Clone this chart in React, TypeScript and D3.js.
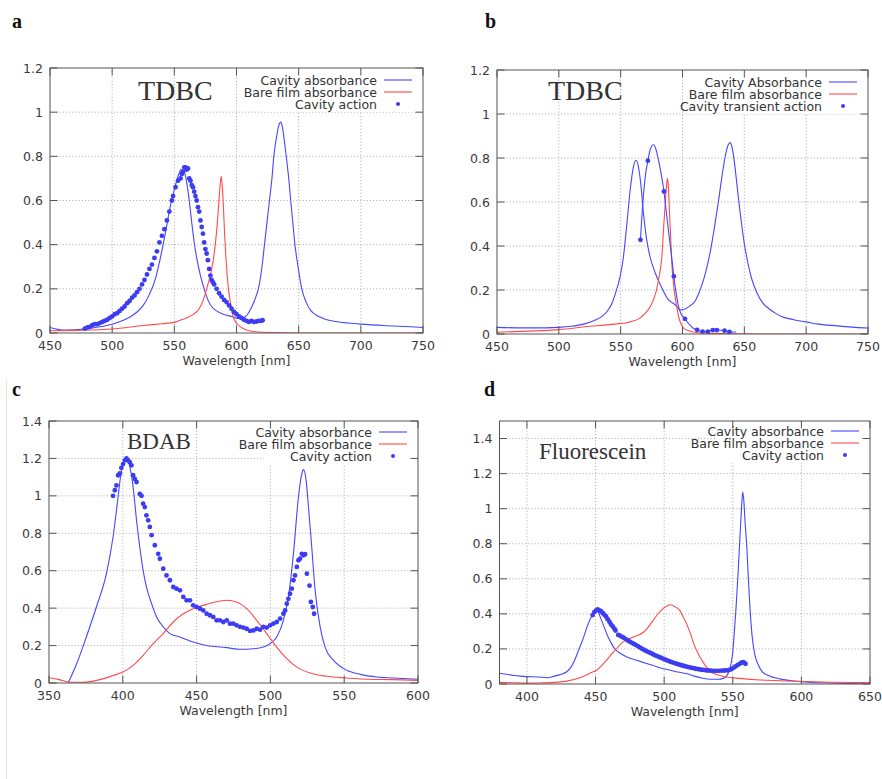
import React from "react";
import * as d3 from "d3";

type Pt = [number, number];

// ---------------- Panel a (TDBC) ----------------
const aCavityAbs: Pt[] = [
  [450, 0.025], [455, 0.018], [460, 0.013], [470, 0.015], [480, 0.02], [490, 0.028], [500, 0.04],
  [510, 0.06], [515, 0.075], [520, 0.095], [525, 0.125], [530, 0.175], [535, 0.25], [538, 0.32],
  [541, 0.4], [544, 0.49], [547, 0.58], [550, 0.65], [553, 0.71], [555.5, 0.74], [558, 0.73],
  [560, 0.68], [562, 0.6], [564, 0.5], [566, 0.41], [568, 0.34], [571, 0.26], [574, 0.2],
  [577, 0.15], [580, 0.12], [584, 0.1], [588, 0.088], [592, 0.08], [596, 0.075], [600, 0.067],
  [603, 0.065], [606, 0.07], [609, 0.085], [612, 0.115], [615, 0.155], [618, 0.21], [620.5, 0.3],
  [622.5, 0.4], [624.5, 0.5], [626.5, 0.6], [628.5, 0.7], [630, 0.8], [632, 0.88], [634, 0.94],
  [635.5, 0.955], [637, 0.93], [638.5, 0.87], [640, 0.8], [642, 0.7], [643.6, 0.6], [645.3, 0.5],
  [647, 0.4], [649.5, 0.3], [652.5, 0.2], [656, 0.14], [660, 0.1], [665, 0.078], [670, 0.065],
  [680, 0.052], [690, 0.045], [700, 0.04], [720, 0.033], [740, 0.028], [750, 0.025],
];
const aBareFilm: Pt[] = [
  [450, 0.01], [470, 0.012], [500, 0.018], [525, 0.034], [540, 0.042], [550, 0.048], [558, 0.065],
  [565, 0.083], [570, 0.11], [573.3, 0.15], [576, 0.2], [578.7, 0.256], [581, 0.32], [582.7, 0.39],
  [584, 0.46], [585.4, 0.56], [586.7, 0.66], [587.7, 0.71], [588.6, 0.66], [589.4, 0.58],
  [590.5, 0.44], [592, 0.3], [593.5, 0.2], [594.8, 0.15], [597, 0.08], [600, 0.045], [604, 0.025],
  [608, 0.014], [615, 0.006], [630, 0.002], [650, 0.0], [750, 0.0],
];
const aCavityAction: Pt[] = [
  [478, 0.02], [480, 0.025], [482, 0.028], [484, 0.035], [486, 0.04], [488, 0.04], [490, 0.045],
  [492, 0.05], [494, 0.055], [496, 0.06], [498, 0.068], [500, 0.075], [502, 0.085], [504, 0.09],
  [506, 0.1], [508, 0.11], [510, 0.12], [512, 0.135], [514, 0.145], [516, 0.16], [518, 0.17],
  [520, 0.185], [522, 0.2], [524, 0.22], [526, 0.24], [528, 0.265], [530, 0.29], [532, 0.31],
  [534, 0.34], [536, 0.37], [538, 0.41], [540, 0.44], [542, 0.47], [544, 0.51], [546, 0.55],
  [548, 0.6], [549, 0.62], [551, 0.66], [553, 0.69], [555, 0.7], [556, 0.72], [557, 0.73],
  [558, 0.75], [559, 0.75], [560, 0.74], [561, 0.745], [562, 0.7], [563, 0.69], [564, 0.67],
  [565, 0.66], [566, 0.64], [567, 0.62], [568, 0.6], [569, 0.57], [570, 0.55], [571, 0.51],
  [572, 0.48], [573, 0.45], [574, 0.41], [575, 0.38], [576, 0.36], [577, 0.33], [578, 0.29],
  [579, 0.26], [580, 0.24], [581, 0.23], [582, 0.22], [584, 0.2], [586, 0.18], [588, 0.165],
  [590, 0.15], [592, 0.14], [594, 0.125], [596, 0.11], [598, 0.095], [600, 0.085], [602, 0.075],
  [604, 0.068], [606, 0.06], [608, 0.055], [610, 0.05], [612, 0.055], [614, 0.05], [616, 0.052],
  [618, 0.055], [620, 0.055], [621, 0.058],
];

// ---------------- Panel b (TDBC transient) ----------------
const bCavityAbs: Pt[] = [
  [450, 0.03], [470, 0.028], [490, 0.028], [500, 0.03], [510, 0.035], [520, 0.045], [530, 0.065],
  [535, 0.08], [540, 0.11], [543, 0.14], [545.5, 0.18], [549.5, 0.26], [552, 0.34], [555, 0.5],
  [557.6, 0.65], [560.3, 0.76], [562.5, 0.79], [564.4, 0.76], [566.5, 0.67], [568.4, 0.55],
  [571, 0.43], [573.8, 0.35], [578, 0.277], [583.3, 0.209], [588.6, 0.156], [591, 0.145],
  [594, 0.133], [598, 0.11], [602, 0.114], [606, 0.128], [610, 0.148], [613.5, 0.19],
  [617, 0.246], [620, 0.31], [623, 0.39], [626, 0.49], [629, 0.6], [632, 0.72], [635, 0.82],
  [637, 0.86], [638.5, 0.87], [640, 0.85], [642, 0.78], [644, 0.68], [646, 0.58], [648, 0.49],
  [650, 0.41], [653, 0.32], [656, 0.25], [660, 0.19], [665, 0.14], [670, 0.115], [675, 0.095],
  [680, 0.08], [690, 0.065], [700, 0.055], [710, 0.045], [725, 0.037], [740, 0.03], [750, 0.027],
];
const bBareFilm: Pt[] = [
  [450, 0.008], [475, 0.013], [500, 0.02], [525, 0.035], [545, 0.045], [559, 0.057], [565, 0.07],
  [570, 0.095], [573.5, 0.12], [576.5, 0.156], [579, 0.2], [580.6, 0.246], [582, 0.29],
  [583.3, 0.35], [584.6, 0.473], [586, 0.59], [587, 0.67], [587.8, 0.708], [588.6, 0.67],
  [589.5, 0.55], [590.5, 0.43], [591.4, 0.32], [592.5, 0.24], [594, 0.17], [595.5, 0.12],
  [596.8, 0.08], [598.5, 0.05], [600.8, 0.027], [605, 0.015], [610, 0.008], [620, 0.004],
  [640, 0.001], [660, 0.0], [750, 0.0],
];
const bTransientCurve: Pt[] = [
  [566, 0.428], [568, 0.6], [570, 0.72], [572, 0.788], [574, 0.84], [576.5, 0.86], [578.5, 0.84],
  [580.6, 0.79], [583, 0.72], [585, 0.648], [586.8, 0.56], [588.6, 0.473], [591, 0.36],
  [593, 0.262], [595, 0.18], [596.8, 0.125], [599, 0.09], [602, 0.069], [606, 0.04], [609, 0.025],
  [611.8, 0.019], [616, 0.011], [620.5, 0.011], [624.5, 0.018], [628, 0.018], [634, 0.015],
  [638, 0.009], [643.4, 0.009],
];
const bTransientAction: Pt[] = [
  [566, 0.428], [572, 0.788], [585, 0.648], [593, 0.262], [602, 0.069], [611.8, 0.019],
  [616.2, 0.011], [620.5, 0.011], [624.5, 0.018], [627.8, 0.018], [634, 0.015], [638, 0.009],
];

// ---------------- Panel c (BDAB) ----------------
const cCavityAbs: Pt[] = [
  [363, 0.0], [368.6, 0.1], [375.3, 0.246], [382.1, 0.406], [388.9, 0.584], [393.4, 0.78],
  [396.8, 0.994], [399.1, 1.136], [401.4, 1.19], [402.5, 1.2], [404.8, 1.154], [407, 1.047],
  [409.3, 0.87], [411.5, 0.727], [413.8, 0.6], [416, 0.513], [419.5, 0.424], [422.9, 0.353],
  [427.4, 0.3], [431.9, 0.264], [438.7, 0.246], [447.7, 0.219], [456.8, 0.2], [470.4, 0.189],
  [479.4, 0.18], [488.5, 0.183], [495.2, 0.192], [499.8, 0.21], [504.3, 0.246], [508.8, 0.335],
  [512.2, 0.46], [515.6, 0.69], [519, 0.994], [521.3, 1.119], [522.4, 1.14], [524.2, 1.083],
  [525.8, 0.94], [528, 0.727], [530.3, 0.495], [533.7, 0.3], [537.1, 0.19], [542.8, 0.121],
  [551.8, 0.068], [560.9, 0.046], [572.2, 0.032], [583.5, 0.027], [600, 0.02],
];
const cBareFilm: Pt[] = [
  [350, 0.028], [357, 0.018], [364, 0.004], [373, 0.004], [384.4, 0.018], [393.4, 0.04],
  [400.2, 0.059], [407, 0.094], [413.8, 0.148], [420.6, 0.21], [427.4, 0.264], [434.2, 0.326],
  [441, 0.37], [447.7, 0.397], [456.8, 0.42], [465.8, 0.438], [470.4, 0.442], [477.1, 0.433],
  [483.9, 0.397], [490.7, 0.335], [497.5, 0.264], [504.3, 0.192], [511.1, 0.13], [517.9, 0.085],
  [526.9, 0.053], [538.2, 0.036], [551.8, 0.027], [565.4, 0.02], [583.5, 0.018], [600, 0.014],
];
const cCavityAction: Pt[] = [
  [393.4, 1.0], [394.6, 1.03], [395.7, 1.056], [396.8, 1.11], [398, 1.12], [399, 1.15],
  [400.2, 1.17], [401.4, 1.19], [402.5, 1.2], [403.6, 1.19], [404.7, 1.18], [405.9, 1.163],
  [407, 1.11], [408.1, 1.09], [409.3, 1.074], [411.5, 1.01], [412.7, 1.0], [413.8, 0.958],
  [414.9, 0.94], [416, 0.896], [417.2, 0.869], [418.3, 0.834], [419.5, 0.79], [421.7, 0.736],
  [424, 0.69], [425.1, 0.664], [427.4, 0.611], [429.6, 0.575], [431.9, 0.549], [434.2, 0.513],
  [436.4, 0.504], [438.7, 0.495], [441, 0.46], [443.2, 0.442], [445.5, 0.442], [447.7, 0.415],
  [450, 0.406], [452.3, 0.397], [454.5, 0.388], [456.8, 0.37], [459, 0.362], [461.3, 0.353],
  [463.6, 0.335], [465.8, 0.335], [468.1, 0.326], [470.4, 0.335], [472.6, 0.317], [474.9, 0.317],
  [477.1, 0.308], [479.4, 0.3], [481.7, 0.296], [483.9, 0.29], [486.2, 0.278], [488.5, 0.281],
  [490.7, 0.29], [493, 0.285], [495.2, 0.3], [497.5, 0.296], [499.8, 0.308], [502, 0.317],
  [504.3, 0.326], [506.6, 0.344], [508.8, 0.37], [510, 0.388], [511.1, 0.424], [512.2, 0.45],
  [513.3, 0.477], [514.5, 0.504], [515.6, 0.549], [516.7, 0.575], [517.9, 0.62], [519, 0.656],
  [520.1, 0.664], [521.3, 0.69], [522.4, 0.682], [523.5, 0.688], [524.7, 0.584], [526.5, 0.52],
  [527.4, 0.433], [528.7, 0.406], [529.6, 0.37],
];

// ---------------- Panel d (Fluorescein) ----------------
const dCavityAbs: Pt[] = [
  [380, 0.061], [388, 0.052], [395, 0.045], [400, 0.042], [408, 0.04], [415, 0.036], [420, 0.045],
  [425, 0.055], [429, 0.07], [432, 0.095], [435, 0.14], [438, 0.2], [441, 0.26], [444, 0.33],
  [447, 0.385], [449.5, 0.42], [451.5, 0.415], [453.5, 0.38], [456, 0.33], [458.5, 0.28],
  [461, 0.24], [464, 0.2], [468, 0.175], [474, 0.15], [480, 0.135], [486, 0.12], [492, 0.105],
  [498, 0.09], [504, 0.08], [510, 0.068], [516, 0.06], [522, 0.045], [528, 0.033], [534, 0.027],
  [539, 0.027], [543, 0.032], [545.5, 0.045], [547.5, 0.08], [549.5, 0.15], [551, 0.28],
  [552.5, 0.45], [554, 0.65], [555.5, 0.88], [556.5, 1.02], [557.2, 1.095], [558, 1.05],
  [559, 0.92], [560.3, 0.77], [561.5, 0.58], [562.5, 0.44], [564, 0.28], [566, 0.17], [568, 0.12],
  [571, 0.075], [576, 0.048], [585, 0.028], [595, 0.017], [605, 0.01], [620, 0.006], [635, 0.003],
  [650, 0.0],
];
const dBareFilm: Pt[] = [
  [380, 0.009], [390, 0.007], [400, 0.005], [410, 0.006], [420, 0.009], [430, 0.018], [440, 0.04],
  [447, 0.065], [451, 0.08], [456, 0.118], [460, 0.155], [465, 0.2], [470, 0.24], [475, 0.26],
  [480, 0.275], [485, 0.295], [488, 0.32], [492, 0.363], [496, 0.405], [499.2, 0.43], [502, 0.445],
  [505, 0.452], [508, 0.44], [511.4, 0.42], [514, 0.38], [516.5, 0.34], [519, 0.29], [522, 0.22],
  [526, 0.155], [530, 0.105], [535, 0.065], [540, 0.05], [545, 0.04], [555, 0.032], [570, 0.023],
  [590, 0.017], [615, 0.011], [650, 0.008],
];
const dCavityAction: Pt[] = [
  [447.9, 0.393], [449.1, 0.41], [450.4, 0.42], [451.6, 0.425], [452.8, 0.42], [454, 0.415],
  [455.2, 0.405], [456.4, 0.395], [457.6, 0.385], [458.8, 0.37], [460.1, 0.355], [461.3, 0.34],
  [462.5, 0.328], [463.7, 0.315], [464.5, 0.305], [466.5, 0.28], [467.7, 0.276], [469, 0.27],
  [470.5, 0.264], [472, 0.256], [473.5, 0.248], [475, 0.241], [476.5, 0.235], [478, 0.228],
  [479.5, 0.222], [481, 0.215], [482.5, 0.208], [484, 0.2], [485.5, 0.194], [487, 0.188],
  [488.5, 0.182], [490, 0.177], [491.5, 0.171], [493, 0.165], [494.5, 0.16], [496, 0.155],
  [497.5, 0.15], [499, 0.145], [500.5, 0.14], [502, 0.135], [503.5, 0.131], [505, 0.126],
  [506.5, 0.122], [508, 0.118], [509.5, 0.114], [511, 0.111], [512.5, 0.107], [514, 0.104],
  [515.5, 0.101], [517, 0.098], [518.5, 0.095], [520, 0.092], [521.5, 0.09], [523, 0.087],
  [524.5, 0.085], [526, 0.083], [527.5, 0.081], [529, 0.08], [530.5, 0.078], [532, 0.077],
  [534, 0.076], [536, 0.075], [538, 0.075], [540, 0.075], [542, 0.076], [544, 0.077], [546, 0.078],
  [547.5, 0.08], [549, 0.085], [550.5, 0.092], [552, 0.1], [553.5, 0.108], [555, 0.115],
  [556.3, 0.122], [557.5, 0.125], [558.5, 0.12], [559.3, 0.115],
];

// ---------------- ticks & labels ----------------
const xTicksAB = [450, 500, 550, 600, 650, 700, 750];
const xTicksC = [350, 400, 450, 500, 550, 600];
const xTicksD = [400, 450, 500, 550, 600, 650];
const yTicks12 = [0, 0.2, 0.4, 0.6, 0.8, 1, 1.2];
const yTicks14 = [0, 0.2, 0.4, 0.6, 0.8, 1, 1.2, 1.4];
const legendStd = ["Cavity absorbance", "Bare film absorbance", "Cavity action"];
const legendB = ["Cavity Absorbance", "Bare film absorbance", "Cavity transient action"];
const xAxisLabel = "Wavelength [nm]";

const BLUE = "#4646ff";
const DOT = "#3c3cf2";
const RED = "#ff4a4a";
const SANS = "'DejaVu Sans', Verdana, sans-serif";
const SERIF = "'Liberation Serif', 'Times New Roman', serif";

type Box = { l: number; r: number; t: number; b: number };

interface PanelProps {
  id: string;
  box: Box;
  xDomain: [number, number];
  yDomain: [number, number];
  xTicks: number[];
  yTicks: number[];
  title: string;
  titleX: number;
  titleY: number;
  titleSize: number;
  legend: string[];
  legendBoxW: number;
  legendTop: number;
  blueLine: Pt[];
  redLine: Pt[];
  dots: Pt[];
  dotLine?: Pt[];
}

const fmt = d3.format("~g");

function Panel(p: PanelProps) {
  const { box } = p;
  const x = d3.scaleLinear().domain(p.xDomain).range([box.l, box.r]);
  const y = d3.scaleLinear().domain(p.yDomain).range([box.b, box.t]);
  const line = d3
    .line<Pt>()
    .x((d) => x(d[0]))
    .y((d) => y(d[1]))
    .curve(d3.curveMonotoneX);
  const tick = 7.5;
  const clipId = `clip-${p.id}`;
  const rowY = (i: number) => box.t + p.legendTop + 12 * i;
  const textRight = box.r - 46;
  return (
    <g>
      <defs>
        <clipPath id={clipId}>
          <rect x={box.l} y={box.t} width={box.r - box.l} height={box.b - box.t} />
        </clipPath>
      </defs>
      {/* grid */}
      <g stroke="#a8a8a8" strokeWidth={1} strokeDasharray="1,2.2">
        {p.xTicks
          .filter((t) => x(t) > box.l + 1 && x(t) < box.r - 1)
          .map((t) => (
            <line key={`gx${t}`} x1={x(t)} x2={x(t)} y1={box.t} y2={box.b} />
          ))}
        {p.yTicks
          .filter((t) => y(t) < box.b - 1 && y(t) > box.t + 1)
          .map((t) => (
            <line key={`gy${t}`} x1={box.l} x2={box.r} y1={y(t)} y2={y(t)} />
          ))}
      </g>
      {/* opaque key box */}
      <rect
        x={box.r - p.legendBoxW}
        y={box.t + 1}
        width={p.legendBoxW - 1}
        height={p.legendTop + 31}
        fill="#fff"
      />
      {/* title */}
      <text x={p.titleX} y={p.titleY} fontFamily={SERIF} fontSize={p.titleSize} fill="#333">
        {p.title}
      </text>
      {/* data */}
      <g clipPath={`url(#${clipId})`}>
        <path d={line(p.blueLine) ?? ""} fill="none" stroke={BLUE} strokeWidth={1.1} />
        <path d={line(p.redLine) ?? ""} fill="none" stroke={RED} strokeWidth={1.1} />
        {p.dotLine && (
          <path d={line(p.dotLine) ?? ""} fill="none" stroke={BLUE} strokeWidth={1.1} />
        )}
        {p.dots.map((d, i) => (
          <circle key={i} cx={x(d[0])} cy={y(d[1])} r={2.4} fill={DOT} />
        ))}
      </g>
      {/* legend */}
      <g fontFamily={SANS} fontSize={12.5} fill="#333">
        {p.legend.map((s, i) => (
          <text key={s} x={textRight} y={rowY(i)} dy="0.36em" textAnchor="end">
            {s}
          </text>
        ))}
      </g>
      <line x1={box.r - 39} x2={box.r - 11} y1={rowY(0)} y2={rowY(0)} stroke={BLUE} strokeWidth={1.1} />
      <line x1={box.r - 39} x2={box.r - 11} y1={rowY(1)} y2={rowY(1)} stroke={RED} strokeWidth={1.1} />
      <circle cx={box.r - 25} cy={rowY(2)} r={2} fill={DOT} />
      {/* border & ticks */}
      <rect
        x={box.l}
        y={box.t}
        width={box.r - box.l}
        height={box.b - box.t}
        fill="none"
        stroke="#555"
        strokeWidth={1}
      />
      <g stroke="#555" strokeWidth={1}>
        {p.xTicks.map((t) => (
          <g key={`tx${t}`}>
            <line x1={x(t)} x2={x(t)} y1={box.b} y2={box.b - tick} />
            <line x1={x(t)} x2={x(t)} y1={box.t} y2={box.t + tick} />
          </g>
        ))}
        {p.yTicks.map((t) => (
          <g key={`ty${t}`}>
            <line x1={box.l} x2={box.l + tick} y1={y(t)} y2={y(t)} />
            <line x1={box.r} x2={box.r - tick} y1={y(t)} y2={y(t)} />
          </g>
        ))}
      </g>
      <g fontFamily={SANS} fontSize={12.5} fill="#3a3a3a">
        {p.xTicks.map((t) => (
          <text key={`lx${t}`} x={x(t)} y={box.b + 17} textAnchor="middle">
            {fmt(t)}
          </text>
        ))}
        {p.yTicks.map((t) => (
          <text key={`ly${t}`} x={box.l - 7} y={y(t)} dy="0.36em" textAnchor="end">
            {fmt(t)}
          </text>
        ))}
        <text x={(box.l + box.r) / 2} y={box.b + 32} textAnchor="middle">
          {xAxisLabel}
        </text>
      </g>
    </g>
  );
}

export default function App() {
  return (
    <svg
      width={882}
      height={779}
      viewBox="0 0 882 779"
      style={{ position: "absolute", left: 0, top: 0, background: "#fff" }}
    >
      <rect x={0} y={0} width={882} height={779} fill="#fff" />
      <line x1={6.5} x2={6.5} y1={380} y2={779} stroke="#e2e2e2" strokeWidth={1} />
      <g fontFamily={SERIF} fontSize={20} fontWeight="bold" fill="#111">
        <text x={12} y={28}>a</text>
        <text x={485} y={28}>b</text>
        <text x={12} y={396}>c</text>
        <text x={484} y={396}>d</text>
      </g>
      <Panel
        id="a"
        box={{ l: 50, r: 423, t: 68, b: 333 }}
        xDomain={[450, 750]}
        yDomain={[0, 1.2]}
        xTicks={xTicksAB}
        yTicks={yTicks12}
        title="TDBC"
        titleX={138}
        titleY={100}
        titleSize={28}
        legend={legendStd}
        legendBoxW={160}
        legendTop={12}
        blueLine={aCavityAbs}
        redLine={aBareFilm}
        dots={aCavityAction}
      />
      <Panel
        id="b"
        box={{ l: 497, r: 868, t: 70, b: 334 }}
        xDomain={[450, 750]}
        yDomain={[0, 1.2]}
        xTicks={xTicksAB}
        yTicks={yTicks12}
        title="TDBC"
        titleX={548}
        titleY={100}
        titleSize={28}
        legend={legendB}
        legendBoxW={180}
        legendTop={12}
        blueLine={bCavityAbs}
        redLine={bBareFilm}
        dots={bTransientAction}
        dotLine={bTransientCurve}
      />
      <Panel
        id="c"
        box={{ l: 49, r: 418, t: 421, b: 683 }}
        xDomain={[350, 600]}
        yDomain={[0, 1.4]}
        xTicks={xTicksC}
        yTicks={yTicks14}
        title="BDAB"
        titleX={127}
        titleY={449}
        titleSize={23}
        legend={legendStd}
        legendBoxW={155}
        legendTop={11}
        blueLine={cCavityAbs}
        redLine={cBareFilm}
        dots={cCavityAction}
      />
      <Panel
        id="d"
        box={{ l: 499.5, r: 870, t: 421, b: 684 }}
        xDomain={[380, 650]}
        yDomain={[0, 1.5]}
        xTicks={xTicksD}
        yTicks={yTicks14}
        title="Fluorescein"
        titleX={539}
        titleY={459}
        titleSize={23}
        legend={legendStd}
        legendBoxW={155}
        legendTop={10}
        blueLine={dCavityAbs}
        redLine={dBareFilm}
        dots={dCavityAction}
      />
    </svg>
  );
}
